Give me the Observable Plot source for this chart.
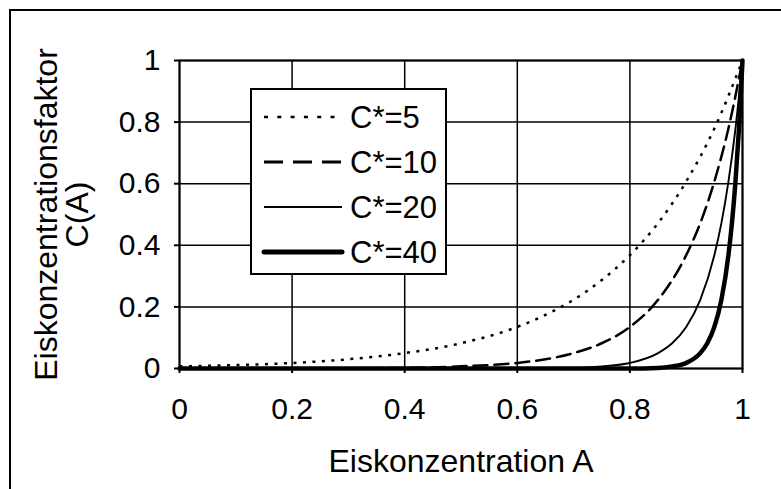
<!DOCTYPE html>
<html>
<head>
<meta charset="utf-8">
<script src="https://cdn.jsdelivr.net/npm/d3@7"></script>
<script src="https://cdn.jsdelivr.net/npm/@observablehq/plot@0.6"></script>
<style>
  html, body { margin: 0; padding: 0; background: #fff; }
  #wrap { position: relative; width: 781px; height: 489px; overflow: hidden; background: #fff; }
  #wrap svg { position: absolute; left: 0; top: 0; }
  #outer { position: absolute; left: 9px; top: 9px; width: 820px; height: 520px; border: 2px solid #000; box-sizing: border-box; }
</style>
</head>
<body>
<div id="wrap"><div id="outer"></div></div>
<script>
// ---- data ----
const seriesNames = ["C*=5", "C*=10", "C*=20", "C*=40"];

const A5  = [0, 0.1, 0.2, 0.3, 0.4, 0.5, 0.6, 0.65, 0.7, 0.75, 0.8, 0.85, 0.9, 0.95, 1];
const C5  = [0.007, 0.011, 0.018, 0.030, 0.050, 0.082, 0.135, 0.174, 0.223, 0.287, 0.368, 0.472, 0.607, 0.779, 1];

const A10 = [0, 0.2, 0.4, 0.5, 0.6, 0.65, 0.7, 0.75, 0.8, 0.85, 0.9, 0.925, 0.95, 0.975, 1];
const C10 = [0.000, 0.000, 0.002, 0.007, 0.018, 0.030, 0.050, 0.082, 0.135, 0.223, 0.368, 0.472, 0.607, 0.779, 1];

const A20 = [0, 0.6, 0.7, 0.75, 0.8, 0.85, 0.875, 0.9, 0.925, 0.95, 0.9625, 0.975, 0.9875, 1];
const C20 = [0, 0.000, 0.002, 0.007, 0.018, 0.050, 0.082, 0.135, 0.223, 0.368, 0.472, 0.607, 0.779, 1];

const A40 = [0, 0.8, 0.85, 0.875, 0.9, 0.925, 0.9375, 0.95, 0.9625, 0.975, 0.98125, 0.9875, 0.99375, 1];
const C40 = [0, 0.000, 0.002, 0.007, 0.018, 0.050, 0.082, 0.135, 0.223, 0.368, 0.472, 0.607, 0.779, 1];

const xTicks = [0, 0.2, 0.4, 0.6, 0.8, 1];
const xTickLabels = ["0", "0.2", "0.4", "0.6", "0.8", "1"];
const yTicks = [0, 0.2, 0.4, 0.6, 0.8, 1];
const yTickLabels = ["0", "0.2", "0.4", "0.6", "0.8", "1"];

const xTitle = "Eiskonzentration A";
const yTitle = "Eiskonzentrationsfaktor\nC(A)";

// ---- styles ----
const plotStyles = [
  { strokeWidth: 2.5, strokeDasharray: "3,6.5" },
  { strokeWidth: 2.5, strokeDasharray: "14,7" },
  { strokeWidth: 1.9, strokeDasharray: null },
  { strokeWidth: 4.5, strokeDasharray: null }
];
const legendStyles = [
  { strokeWidth: 2.5, dash: "4,9.3" },
  { strokeWidth: 3, dash: "19,10" },
  { strokeWidth: 1.9, dash: null },
  { strokeWidth: 5, dash: null }
];

const xs = [A5, A10, A20, A40];
const cs = [C5, C10, C20, C40];
const rows = [];
seriesNames.forEach((s, k) => xs[k].forEach((a, i) => rows.push({ s, A: a, C: cs[k][i] })));

const font = "'Liberation Sans', Arial, Helvetica, sans-serif";

const lineMarks = seriesNames.map((s, k) => Plot.line(rows.filter(r => r.s === s), {
  x: "A", y: "C", stroke: "black", curve: "monotone-x",
  strokeWidth: plotStyles[k].strokeWidth,
  strokeDasharray: plotStyles[k].strokeDasharray || undefined,
  strokeLinecap: k === 0 ? "butt" : "round"
}));

const chart = Plot.plot({
  width: 781, height: 489,
  marginLeft: 179, marginRight: 39, marginTop: 60, marginBottom: 121,
  style: { fontFamily: font, fontSize: "30px", color: "black", background: "transparent", overflow: "visible" },
  x: { domain: [0, 1] },
  y: { domain: [0, 1] },
  marks: [
    Plot.gridX(xTicks, { stroke: "black", strokeOpacity: 1, strokeWidth: 1.5 }),
    Plot.gridY(yTicks, { stroke: "black", strokeOpacity: 1, strokeWidth: 1.5 }),
    Plot.frame({ stroke: "black", strokeWidth: 2 }),
    Plot.axisX(xTicks, { tickSize: 5, tickPadding: 24, strokeWidth: 2, fontSize: 30, label: null,
      tickFormat: d => xTickLabels[xTicks.indexOf(d)] }),
    Plot.axisY(yTicks, { tickSize: 5, tickPadding: 14, strokeWidth: 2, fontSize: 30, label: null,
      tickFormat: d => yTickLabels[yTicks.indexOf(d)] }),
    ...lineMarks,
    Plot.text([xTitle], { text: d => d, frameAnchor: "bottom", dy: 93, fontSize: 32, lineAnchor: "middle", fill: "black" }),
    Plot.text([yTitle], { text: d => d, frameAnchor: "left", textAnchor: "middle", dx: -116.7, rotate: -90, fontSize: 32,
      lineHeight: 0.97, lineAnchor: "middle", fill: "black" })
  ]
});
document.getElementById("wrap").appendChild(chart);

// ---- legend overlay ----
const lg = d3.select("#wrap").append("svg")
  .attr("width", 781).attr("height", 489)
  .style("font-family", font);
lg.append("rect").attr("x", 251).attr("y", 89).attr("width", 195).attr("height", 185)
  .attr("fill", "white").attr("stroke", "black").attr("stroke-width", 2);
seriesNames.forEach((s, k) => {
  const cy = 117 + k * 45;
  lg.append("line").attr("x1", 264).attr("x2", 342).attr("y1", cy).attr("y2", cy)
    .attr("stroke", "black").attr("stroke-width", legendStyles[k].strokeWidth)
    .attr("stroke-dasharray", legendStyles[k].dash)
    .attr("stroke-linecap", k === 3 ? "round" : "butt");
  lg.append("text").attr("x", 350).attr("y", cy + 11).attr("font-size", 31).attr("fill", "black").text(s);
});
</script>
</body>
</html>
